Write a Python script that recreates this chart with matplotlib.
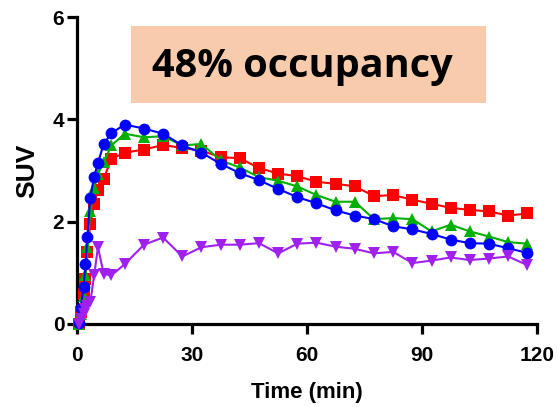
import matplotlib
matplotlib.use("Agg")
import matplotlib.pyplot as plt
from matplotlib.patches import Rectangle

plt.rcParams['font.family'] = ['Liberation Sans', 'DejaVu Sans']

time_early = [0.5, 1.0, 1.75, 2.25, 2.75, 3.5, 4.5, 5.5, 7.0, 9.0]
time_late = [12.5, 17.5, 22.5, 27.5, 32.5, 37.5, 42.5, 47.5, 52.5, 57.5, 62.5,
             67.5, 72.5, 77.5, 82.5, 87.5, 92.5, 97.5, 102.5, 107.5, 112.5, 117.5]
time_min = time_early + time_late

suv_red = [0.0, 0.23, 0.59, 0.88, 1.40, 1.96, 2.35, 2.61, 2.84, 3.23,
           3.35, 3.41, 3.50, 3.44, 3.39, 3.26, 3.24,
           3.05, 2.94, 2.89, 2.78, 2.74, 2.69, 2.50, 2.52, 2.43, 2.35, 2.27, 2.23, 2.20, 2.12, 2.16]
suv_green = [0.0, 0.20, 0.55, 0.95, 1.50, 2.20, 2.65, 2.94, 3.16, 3.49,
             3.72, 3.65, 3.67, 3.49, 3.52, 3.20, 3.06,
             2.87, 2.80, 2.69, 2.52, 2.39, 2.39, 2.05, 2.07, 2.05, 1.81, 1.94, 1.81, 1.71, 1.60, 1.57]
suv_blue = [0.02, 0.32, 0.72, 1.17, 1.71, 2.47, 2.88, 3.15, 3.52, 3.73,
            3.90, 3.82, 3.72, 3.49, 3.35, 3.13, 2.95,
            2.81, 2.64, 2.48, 2.36, 2.22, 2.12, 2.05, 1.91, 1.85, 1.76, 1.65, 1.58, 1.57, 1.48, 1.39]
suv_purple = [0.0, 0.10, 0.20, 0.30, 0.35, 0.42, 0.95, 1.50, 0.98, 0.95,
              1.17, 1.55, 1.69, 1.32, 1.50, 1.55, 1.55,
              1.58, 1.38, 1.57, 1.59, 1.51, 1.47, 1.38, 1.41, 1.19, 1.24, 1.30, 1.25, 1.28, 1.32, 1.15]

x_ticks = [0, 30, 60, 90, 120]
y_ticks = [0, 2, 4, 6]
title_text = "48% occupancy"

fig = plt.figure(figsize=(5.57, 4.07), dpi=100)
ax = fig.add_axes([0.138, 0.204, 0.826, 0.754])

series = [
    (suv_red, '#FF0000', 's', 8),
    (suv_green, '#00B000', '^', 8.5),
    (suv_blue, '#0000FF', 'o', 8.5),
    (suv_purple, '#A020F0', 'v', 8.5),
]
for vals, col, mk, ms in series:
    ax.plot(time_min, vals, color=col, marker=mk, markersize=ms, linewidth=1.5,
            markeredgewidth=0, clip_on=False, zorder=3)

ax.set_xlim(0, 120)
ax.set_ylim(0, 6)
ax.set_xticks(x_ticks)
ax.set_yticks(y_ticks)
for s in ['top', 'right']:
    ax.spines[s].set_visible(False)
for s in ['left', 'bottom']:
    ax.spines[s].set_linewidth(2.3)
ax.tick_params(axis='both', width=2.3, length=7, labelsize=15)
ax.tick_params(axis='x', pad=9)
ax.tick_params(axis='y', pad=2)
for lab in ax.get_xticklabels() + ax.get_yticklabels():
    lab.set_fontweight('bold')
ax.set_xlabel("Time (min)", fontsize=16, fontweight='bold', labelpad=12)
ax.set_ylabel("SUV", fontsize=19, fontweight='bold', labelpad=10)

fig.patches.append(Rectangle((131/557, 1-103/407), (486-131)/557, (103-26)/407,
                             transform=fig.transFigure, facecolor='#F8CBAD',
                             edgecolor='none', zorder=1))
fig.text(302/557, 1-66/407, title_text, fontsize=28.5, fontweight='bold',
         family=['Open Sans', 'DejaVu Sans'], ha='center', va='center', zorder=5)

fig.savefig("out.png", dpi=100)
